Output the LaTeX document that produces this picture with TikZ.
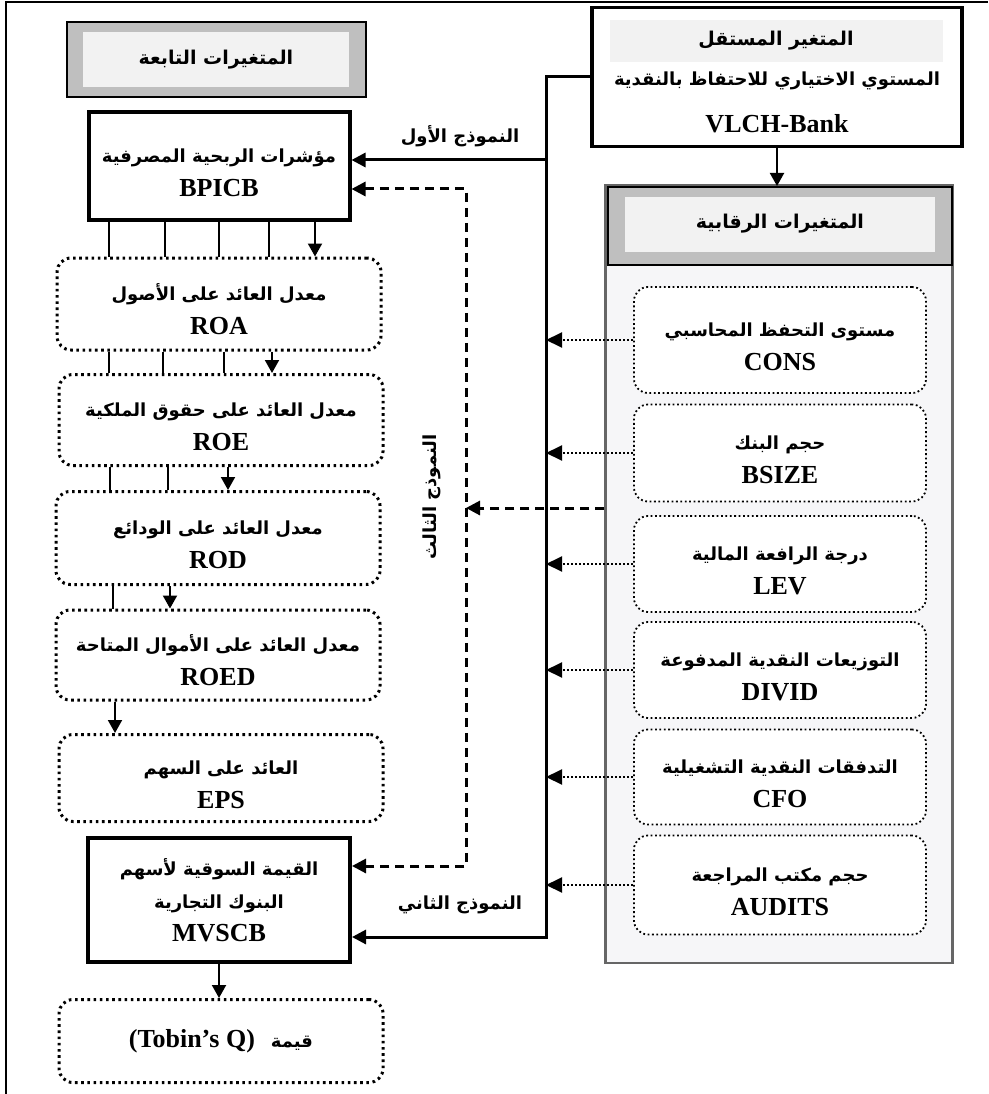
\documentclass[tikz,border=0pt]{standalone}
\usepackage{fontspec}
\setmainfont{Liberation Serif}
\newfontfamily\arabicfont[Script=Arabic]{DejaVu Sans}
\TeXXeTstate=1
\usetikzlibrary{arrows.meta,positioning}

\definecolor{headgray}{HTML}{BFBFBF}
\definecolor{headlight}{HTML}{F2F2F2}
\definecolor{panelfill}{HTML}{F6F6F8}

\newcommand{\artxt}[2][18]{{\arabicfont\fontsize{#1}{#1}\selectfont\beginR #2\endR}}
\newcommand{\lift}{\rule{0pt}{27pt}}

\begin{document}
\begin{tikzpicture}[x=1pt, y=-1pt,
  every node/.style={font=\fontsize{26}{34}\selectfont\bfseries, align=center, inner sep=0pt},
  mainbox/.style={draw, line width=4pt, fill=white},
  dotbox/.style={draw, rounded corners=14pt, line width=3pt, dash pattern=on 2.6pt off 3.6pt, minimum width=324},
  ctrlvar/.style={draw, rounded corners=14pt, line width=1.8pt, dash pattern=on 1.8pt off 2.6pt, fill=white, minimum width=292},
  link/.style={line width=2pt},
  arr/.style={line width=2pt, -{Triangle[length=13pt,width=14pt]}},
  trunkarr/.style={line width=3pt, -{Triangle[length=14pt,width=14pt]}},
  dasharr/.style={line width=3pt, dash pattern=on 9pt off 6pt, -{Triangle[length=14pt,width=14pt]}},
  dotarr/.style={line width=2pt, dotted, -{Triangle[length=16pt,width=15pt]}}]
  \useasboundingbox (0,0) rectangle (988,1094);
  \draw[line width=1.5pt] (6,1094) -- (6,2) -- (988,2);

  % dependent variables
  \node[draw, line width=2pt, fill=headgray, minimum width=299, minimum height=75] (depframe) at (216,60) {};
  \node[fill=headlight, minimum width=266, minimum height=55] (dephead) at (216,60) {\artxt[19]{المتغيرات التابعة}};

  \node[mainbox, minimum width=261, minimum height=107] (bpicb) at (219,166) {\lift\artxt{مؤشرات الربحية المصرفية}\\ BPICB};
  \node[dotbox, minimum height=92] (roa) at (219,304) {\lift\artxt{معدل العائد على الأصول}\\ ROA};
  \node[dotbox, minimum height=91] (roe) at (221,420) {\lift\artxt{معدل العائد على حقوق الملكية}\\ ROE};
  \node[dotbox, minimum height=93] (rod) at (218,538) {\lift\artxt{معدل العائد على الودائع}\\ ROD};
  \node[dotbox, minimum height=90] (roed) at (218,655) {\lift\artxt{معدل العائد على الأموال المتاحة}\\ ROED};
  \node[dotbox, minimum height=87] (eps) at (221,778) {\lift\artxt{العائد على السهم}\\ EPS};
  \node[mainbox, minimum width=262, minimum height=124, font=\fontsize{26}{33}\selectfont\bfseries] (mvscb) at (219,900) {\artxt{القيمة السوقية لأسهم}\\ \artxt{البنوك التجارية}\\ MVSCB};
  \node[dotbox, minimum height=83] (tobin) at (221,1041) {(Tobin’s Q)\hspace{16pt}\artxt{قيمة}};

  \foreach \x in {109,165,219,269} \draw[link] (\x,0 |- bpicb.south) -- (\x,0 |- roa.north);
  \draw[arr] (315,0 |- bpicb.south) -- (315,0 |- roa.north);
  \foreach \x in {109,163,224} \draw[link] (\x,0 |- roa.south) -- (\x,0 |- roe.north);
  \draw[arr] (272,0 |- roa.south) -- (272,0 |- roe.north);
  \foreach \x in {110,168} \draw[link] (\x,0 |- roe.south) -- (\x,0 |- rod.north);
  \draw[arr] (228,0 |- roe.south) -- (228,0 |- rod.north);
  \draw[link] (113,0 |- rod.south) -- (113,0 |- roed.north);
  \draw[arr] (170,0 |- rod.south) -- (170,0 |- roed.north);
  \draw[arr] (115,0 |- roed.south) -- (115,0 |- eps.north);
  \draw[arr] (mvscb.south) -- (mvscb.south |- tobin.north);

  % independent variable
  \node[draw, line width=3.5pt, fill=white, minimum width=370, minimum height=139] (indep) at (777,77) {};
  \node[fill=headlight, minimum width=333, minimum height=42] (indeptitle) at (776,41) {\artxt[19]{المتغير المستقل}};
  \node (indepname) at (777,81) {\artxt{المستوي الاختياري للاحتفاظ بالنقدية}};
  \node (indepcode) at (777,124) {VLCH-Bank};

  % control variables
  \node[draw=gray!80!black, line width=2.5pt, fill=panelfill, minimum width=347, minimum height=778] (ctrl) at (779,574) {};
  \node[draw, line width=2pt, fill=headgray, minimum width=344, minimum height=78] (ctrlband) at (780,226) {};
  \node[fill=headlight, minimum width=310, minimum height=55] (ctrlhead) at (780,224) {\artxt[19]{المتغيرات الرقابية}};
  \draw[arr] (indep.south) -- (indep.south |- ctrlband.north);

  \node[ctrlvar, minimum height=106] (cons) at (780,340) {\lift\artxt{مستوى التحفظ المحاسبي}\\ CONS};
  \node[ctrlvar, minimum height=97] (bsize) at (780,453) {\lift\artxt{حجم البنك}\\ BSIZE};
  \node[ctrlvar, minimum height=96] (lev) at (780,564) {\lift\artxt{درجة الرافعة المالية}\\ LEV};
  \node[ctrlvar, minimum height=96] (divid) at (780,670) {\lift\artxt{التوزيعات النقدية المدفوعة}\\ DIVID};
  \node[ctrlvar, minimum height=95] (cfo) at (780,777) {\lift\artxt{التدفقات النقدية التشغيلية}\\ CFO};
  \node[ctrlvar, minimum height=99] (audits) at (780,885) {\lift\artxt{حجم مكتب المراجعة}\\ AUDITS};

  % models
  \coordinate (trunktop) at (546,77);
  \coordinate (trunkbot) at (546,937);
  \coordinate (m1) at (546,160);
  \draw[trunkarr] (indep.west) -| (trunkbot) -- (mvscb.east |- trunkbot);
  \draw[trunkarr] (m1) -- (bpicb.east |- m1);
  \foreach \v in {cons,bsize,lev,divid,cfo,audits}
    \draw[dotarr] (\v.west) -- (\v.west -| trunktop);
  \node (m1lab) at (460,136) {\artxt{النموذج الأول}};
  \node (m2lab) at (460,905) {\artxt{النموذج الثاني}};

  \coordinate (d1) at (466,189);
  \coordinate (d2) at (466,866);
  \coordinate (d3) at (466,508);
  \draw[dasharr, {Triangle[length=14pt,width=14pt]}-{Triangle[length=14pt,width=14pt]}] (bpicb.east |- d1) -- (d1) -- (d2) -- (mvscb.east |- d2);
  \draw[dasharr] (ctrl.west |- d3) -- (d3);
  \node[rotate=90] (m3lab) at (432,497) {\artxt{النموذج الثالث}};
\end{tikzpicture}
\end{document}
